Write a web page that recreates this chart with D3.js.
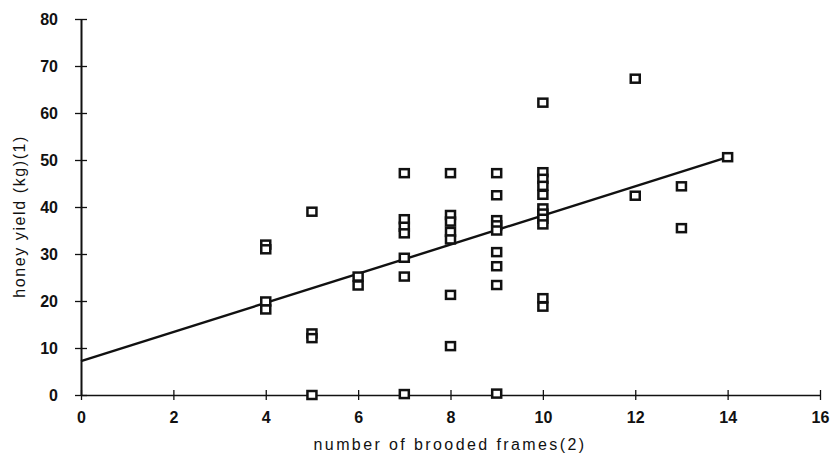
<!DOCTYPE html>
<html>
<head>
<meta charset="utf-8">
<script src="https://cdn.jsdelivr.net/npm/d3@7"></script>
<style>
  body { margin: 0; background: #fff; }
  text { font-family: "Liberation Sans", Arial, sans-serif; fill: #111; }
</style>
</head>
<body>
<script>
// brooded frames (x) and honey yield in kg (y)
var frames = [4,4,4,4, 5,5,5,5, 6,6,
  7,7,7,7,7,7,7, 8,8,8,8,8,8,8,
  9,9,9,9,9,9,9,9,9,
  10,10,10,10,10,10,10,10,10,10,10,
  12,12, 13,13, 14]
var yields = [32,31,19.9,18.2, 39,13.1,12.1,0, 25.2,23.3,
  47.2,37.4,35.8,34.4,29.2,25.2,0.2, 47.2,38.3,36.9,34.7,33.1,21.3,10.4,
  47.2,42.5,37.2,36.1,35,30.4,27.4,23.4,0.3,
  62.2,47.4,46,44.5,42.6,39.7,38.6,37.5,36.3,20.6,18.8,
  67.3,42.4, 44.4,35.5, 50.6]
// fitted line end points
var fitX = [0, 14]
var fitY = [7.2, 50.6]
var xTicks = [0,2,4,6,8,10,12,14,16]
var yTicks = [0,10,20,30,40,50,60,70,80]

var margin = {top:19, right:13, left:81, bottom:67}
var W = 833, H = 462
var w = W - margin.left - margin.right
var h = H - margin.top - margin.bottom

var svg = d3.select('body').append('svg')
  .attr('width', W)
  .attr('height', H)
var g = svg.append('g')
  .attr('transform', 'translate(' + margin.left + ',' + margin.top + ')')

var x = d3.scaleLinear().domain([0,16]).range([0,w])
var y = d3.scaleLinear().domain([0,80]).range([h,0])

// x axis
var xAxis = g.append('g')
  .attr('transform', 'translate(0,' + h + ')')
  .call(d3.axisBottom(x).tickValues(xTicks).tickSizeOuter(0).tickSizeInner(5).tickPadding(12))
xAxis.select('.domain').attr('stroke', '#111').attr('stroke-width', 1.6)
xAxis.selectAll('.tick line').attr('y1', -5).attr('stroke', '#111').attr('stroke-width', 1.3)
xAxis.selectAll('.tick text').style('font-size', '16px').style('font-weight', 'bold').attr('fill', '#111')

// y axis
var yAxis = g.append('g')
  .call(d3.axisLeft(y).tickValues(yTicks).tickSizeOuter(0).tickSizeInner(5).tickPadding(18))
yAxis.select('.domain').attr('stroke', '#111').attr('stroke-width', 2)
yAxis.selectAll('.tick line').attr('x1', 6).attr('x2', -6).attr('stroke', '#111').attr('stroke-width', 1.3)
yAxis.selectAll('.tick text').style('font-size', '16px').style('font-weight', 'bold').attr('fill', '#111')

// axis titles
svg.append('text')
  .attr('x', 450)
  .attr('y', 450)
  .attr('text-anchor', 'middle')
  .style('font-size', '16px')
  .style('letter-spacing', '2.4px')
  .text('number of brooded frames(2)')

svg.append('text')
  .attr('transform', 'translate(25,' + (margin.top + y(38)) + ') rotate(-90)')
  .attr('text-anchor', 'middle')
  .style('font-size', '16px')
  .style('letter-spacing', '1.6px')
  .text('honey yield (kg)(1)')

// regression line
g.append('line')
  .attr('x1', x(fitX[0])).attr('y1', y(fitY[0]))
  .attr('x2', x(fitX[1])).attr('y2', y(fitY[1]))
  .attr('stroke', '#111')
  .attr('stroke-width', 2.4)

// points
var pts = d3.range(frames.length)
g.selectAll('rect.pt')
  .data(pts)
  .enter()
  .append('rect')
  .attr('class', 'pt')
  .attr('x', function(i){ return x(frames[i]) - 4.5 })
  .attr('y', function(i){ return y(yields[i]) - 4 })
  .attr('width', 9)
  .attr('height', 8)
  .attr('fill', '#fff')
  .attr('stroke', '#111')
  .attr('stroke-width', 2.5)
</script>
</body>
</html>
